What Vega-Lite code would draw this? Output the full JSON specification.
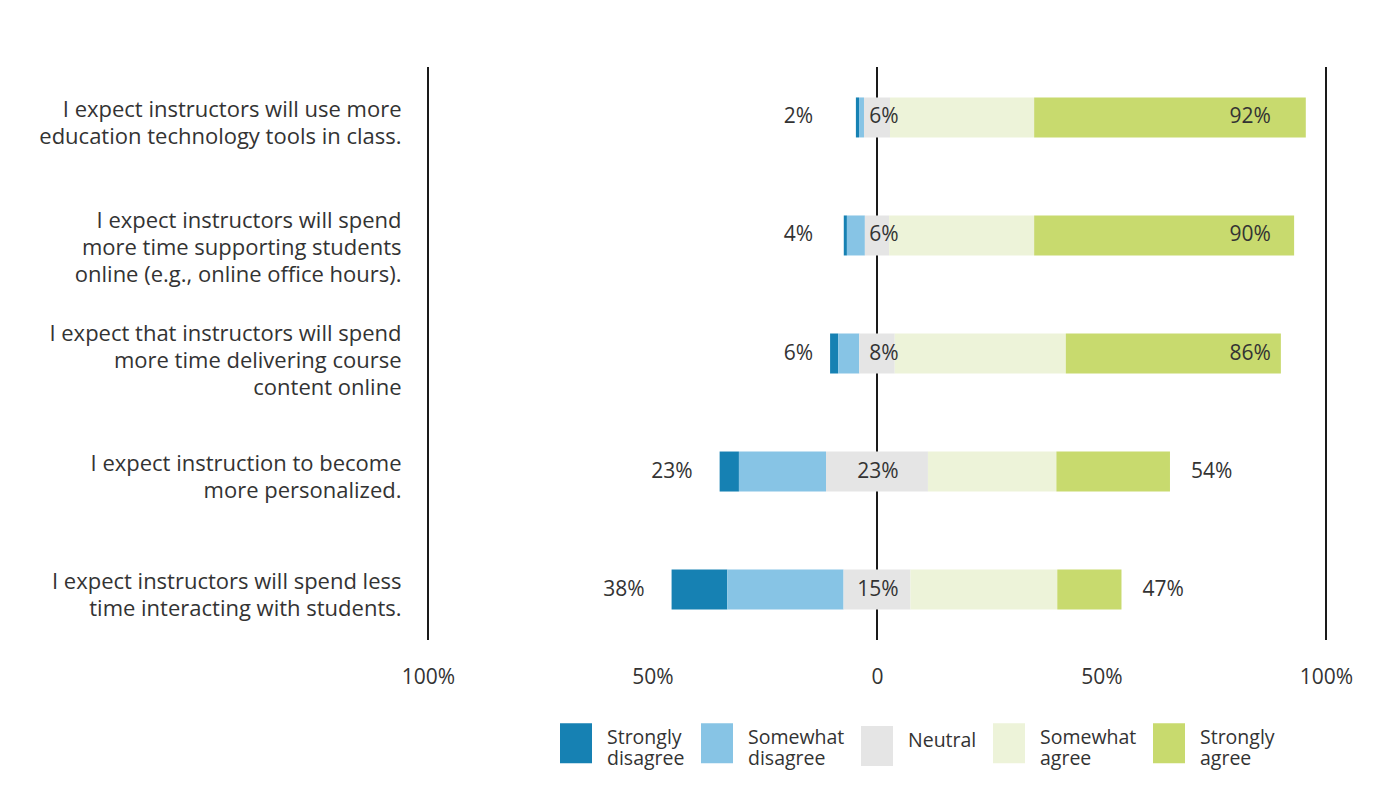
{
  "$schema": "https://vega.github.io/schema/vega-lite/v6.json",
  "width": 898,
  "height": 573,
  "autosize": "none",
  "padding": {"left": 428, "top": 67, "right": 69, "bottom": 164},
  "background": "white",
  "config": {
    "view": {"stroke": null},
    "font": "Open Sans",
    "style": {"guide-label": {"lineHeight": 21, "dy": -5}}
  },
  "datasets": {
    "bars": [
      {"q": "I expect instructors will use more|education technology tools in class.", "cat": "Strongly disagree", "order": 1, "v": 0.7},
      {"q": "I expect instructors will use more|education technology tools in class.", "cat": "Somewhat disagree", "order": 2, "v": 1.1},
      {"q": "I expect instructors will use more|education technology tools in class.", "cat": "Neutral", "order": 3, "v": 5.8},
      {"q": "I expect instructors will use more|education technology tools in class.", "cat": "Somewhat agree", "order": 4, "v": 32.1},
      {"q": "I expect instructors will use more|education technology tools in class.", "cat": "Strongly agree", "order": 5, "v": 60.5},
      {"q": "I expect instructors will spend |more time  supporting students |online (e.g., online office hours).", "cat": "Strongly disagree", "order": 1, "v": 0.7},
      {"q": "I expect instructors will spend |more time  supporting students |online (e.g., online office hours).", "cat": "Somewhat disagree", "order": 2, "v": 4.0},
      {"q": "I expect instructors will spend |more time  supporting students |online (e.g., online office hours).", "cat": "Neutral", "order": 3, "v": 5.4},
      {"q": "I expect instructors will spend |more time  supporting students |online (e.g., online office hours).", "cat": "Somewhat agree", "order": 4, "v": 32.3},
      {"q": "I expect instructors will spend |more time  supporting students |online (e.g., online office hours).", "cat": "Strongly agree", "order": 5, "v": 57.9},
      {"q": "I expect that instructors will spend|more time delivering course|content online", "cat": "Strongly disagree", "order": 1, "v": 1.8},
      {"q": "I expect that instructors will spend|more time delivering course|content online", "cat": "Somewhat disagree", "order": 2, "v": 4.7},
      {"q": "I expect that instructors will spend|more time delivering course|content online", "cat": "Neutral", "order": 3, "v": 7.9},
      {"q": "I expect that instructors will spend|more time delivering course|content online", "cat": "Somewhat agree", "order": 4, "v": 38.1},
      {"q": "I expect that instructors will spend|more time delivering course|content online", "cat": "Strongly agree", "order": 5, "v": 47.9},
      {"q": "I expect instruction to become |more personalized.", "cat": "Strongly disagree", "order": 1, "v": 4.3},
      {"q": "I expect instruction to become |more personalized.", "cat": "Somewhat disagree", "order": 2, "v": 19.4},
      {"q": "I expect instruction to become |more personalized.", "cat": "Neutral", "order": 3, "v": 22.7},
      {"q": "I expect instruction to become |more personalized.", "cat": "Somewhat agree", "order": 4, "v": 28.6},
      {"q": "I expect instruction to become |more personalized.", "cat": "Strongly agree", "order": 5, "v": 25.3},
      {"q": "I expect instructors will spend less|time interacting with students.", "cat": "Strongly disagree", "order": 1, "v": 12.4},
      {"q": "I expect instructors will spend less|time interacting with students.", "cat": "Somewhat disagree", "order": 2, "v": 25.9},
      {"q": "I expect instructors will spend less|time interacting with students.", "cat": "Neutral", "order": 3, "v": 14.9},
      {"q": "I expect instructors will spend less|time interacting with students.", "cat": "Somewhat agree", "order": 4, "v": 32.7},
      {"q": "I expect instructors will spend less|time interacting with students.", "cat": "Strongly agree", "order": 5, "v": 14.3}
    ],
    "labels": [
      {"q": "I expect instructors will use more|education technology tools in class.", "dis": "2%", "neu": "6%", "agr": "92%"},
      {"q": "I expect instructors will spend |more time  supporting students |online (e.g., online office hours).", "dis": "4%", "neu": "6%", "agr": "90%"},
      {"q": "I expect that instructors will spend|more time delivering course|content online", "dis": "6%", "neu": "8%", "agr": "86%"},
      {"q": "I expect instruction to become |more personalized.", "dis": "23%", "neu": "23%", "agr": "54%"},
      {"q": "I expect instructors will spend less|time interacting with students.", "dis": "38%", "neu": "15%", "agr": "47%"}
    ],
    "lines": [{"x": -100}, {"x": 0}, {"x": 100}]
  },
  "encoding": {
    "y": {
      "field": "q",
      "type": "nominal",
      "sort": null,
      "scale": {"paddingInner": 0.661, "paddingOuter": 0.258},
      "axis": {
        "title": null,
        "domain": false,
        "ticks": false,
        "labelExpr": "split(datum.label, '|')",
        "labelFontSize": 22,
        "labelLineHeight": 27,
        "labelColor": "#333333",
        "labelPadding": 27,
        "labelLimit": 500,
        "labelAlign": "right",
        "labelBaseline": "middle",
        "labelOffset": {
          "condition": [
            {"test": "indexof(datum.value, 'spend |more time') >= 0", "value": -9},
            {"test": "indexof(datum.value, 'content online') >= 0", "value": -15}
          ],
          "value": -2.5
        }
      }
    }
  },
  "layer": [
    {
      "data": {"name": "lines"},
      "mark": {"type": "rule", "color": "#1a1a1a", "strokeWidth": 2},
      "encoding": {
        "y": null,
        "x": {
          "field": "x",
          "type": "quantitative",
          "scale": {"domain": [-100, 100], "nice": false, "zero": false},
          "axis": {
            "title": null,
            "values": [-100, -50, 0, 50, 100],
            "labelExpr": "datum.value == 0 ? '0' : abs(datum.value) + '%'",
            "labelFlush": false,
            "domain": false,
            "ticks": false,
            "grid": false,
            "labelFontSize": 21,
            "labelColor": "#333333",
            "labelPadding": 31
          }
        }
      }
    },
    {
      "data": {"name": "bars"},
      "transform": [
        {"calculate": "datum.order < 3 ? datum.v : (datum.order == 3 ? datum.v / 2 : 0)", "as": "neg"},
        {"joinaggregate": [{"op": "sum", "field": "neg", "as": "offset"}], "groupby": ["q"]},
        {"stack": "v", "groupby": ["q"], "sort": [{"field": "order", "order": "ascending"}], "as": ["s0", "s1"]},
        {"calculate": "datum.s0 - datum.offset", "as": "x0"},
        {"calculate": "datum.s1 - datum.offset", "as": "x1"}
      ],
      "mark": {"type": "bar"},
      "encoding": {
        "x": {"field": "x0", "type": "quantitative"},
        "x2": {"field": "x1"},
        "color": {
          "field": "cat",
          "type": "nominal",
          "scale": {
            "domain": ["Strongly disagree", "Somewhat disagree", "Neutral", "Somewhat agree", "Strongly agree"],
            "range": ["#1681b3", "#87c4e5", "#e5e5e5", "#edf3d9", "#c8da6e"]
          },
          "legend": {
            "title": null,
            "orient": "none",
            "legendX": 128,
            "legendY": 656,
            "direction": "horizontal",
            "symbolType": "M-0.8,-1H0.8V1H-0.8Z",
            "symbolSize": 1600,
            "symbolStrokeWidth": 0,
            "labelFontSize": 19.5,
            "labelColor": "#333333",
            "labelOffset": 11,
            "labelLimit": 300,
            "columnPadding": 12,
            "labelExpr": "split(datum.label, ' ')"
          }
        }
      }
    },
    {
      "data": {"name": "bars"},
      "transform": [
        {"calculate": "datum.order < 3 ? datum.v : (datum.order == 3 ? datum.v / 2 : 0)", "as": "neg"},
        {"aggregate": [{"op": "sum", "field": "neg", "as": "offset"}, {"op": "sum", "field": "v", "as": "total"}], "groupby": ["q"]},
        {"lookup": "q", "from": {"data": {"name": "labels"}, "key": "q", "fields": ["dis", "neu", "agr"]}},
        {"calculate": "datum.offset < 20 ? -14.2 : -datum.offset - 6", "as": "lx"},
        {"calculate": "min(datum.total - datum.offset + 4.7, 78.5)", "as": "rx"}
      ],
      "layer": [
        {
          "mark": {"type": "text", "align": "right", "baseline": "middle", "fontSize": 21, "color": "#333333"},
          "encoding": {"x": {"field": "lx", "type": "quantitative"}, "text": {"field": "dis"}}
        },
        {
          "mark": {"type": "text", "align": "right", "baseline": "middle", "fontSize": 21, "color": "#333333"},
          "encoding": {"x": {"datum": 4.8, "type": "quantitative"}, "text": {"field": "neu"}}
        },
        {
          "mark": {"type": "text", "align": "left", "baseline": "middle", "fontSize": 21, "color": "#333333"},
          "encoding": {"x": {"field": "rx", "type": "quantitative"}, "text": {"field": "agr"}}
        }
      ]
    }
  ]
}
